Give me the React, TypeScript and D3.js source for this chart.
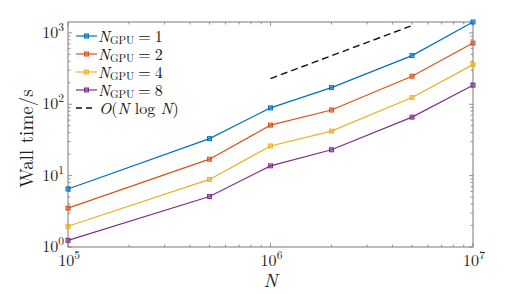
import React from "react";
import * as d3 from "d3";

const nValues = [1e5, 5e5, 1e6, 2e6, 5e6, 1e7];
const gpuCounts = [1, 2, 4, 8];
const time1 = [6.5, 33, 89, 171, 480, 1420];
const time2 = [3.5, 17, 51, 83, 247, 720];
const time4 = [1.95, 8.85, 26, 42, 124, 359];
const time8 = [1.24, 5.1, 13.7, 23, 66, 185];
const refN = [1e6, 4.92e6];
const refTime = [229, 1245];
const xTicks = [1e5, 1e6, 1e7];
const yTicks = [1, 10, 100, 1000];

const colors = ["#0072BD", "#D95319", "#EDB120", "#7E2F8E"];
const series = [time1, time2, time4, time8];

const width = 523;
const height = 294;
const margin = { top: 22, right: 50, bottom: 47, left: 68 };
const innerWidth = width - margin.left - margin.right;
const innerHeight = height - margin.top - margin.bottom;
const font = "Latin Modern Roman, Liberation Serif, serif";
const axisColor = "#7a7a7a";

function minorTicks(lo: number, hi: number) {
  const out: number[] = [];
  for (let e = Math.floor(Math.log10(lo)); e <= Math.ceil(Math.log10(hi)); e++) {
    for (let m = 2; m <= 9; m++) {
      const v = m * Math.pow(10, e);
      if (v > lo && v < hi) out.push(v);
    }
  }
  return out;
}

function Pow10({ exp, x, y, anchor }: { exp: number; x: number; y: number; anchor: string }) {
  return (
    <text x={x} y={y} textAnchor={anchor} style={{ fontFamily: font }} fontSize={16} fill="#222">
      10<tspan dy={-7} fontSize={11.5}>{exp}</tspan>
    </text>
  );
}

export default function App() {
  const xScale = d3.scaleLog().domain([1e5, 1e7]).range([0, innerWidth]);
  const yScale = d3.scaleLog().domain([1, 1420]).range([innerHeight, 0]);

  const line = d3
    .line<[number, number]>()
    .x((d) => xScale(d[0]))
    .y((d) => yScale(d[1]));

  const xMinor = minorTicks(1e5, 1e7);
  const yMinor = minorTicks(1, 1420);

  return (
    <svg width={width} height={height} style={{ position: "absolute", left: 0, top: 0 }}>
      <rect width={width} height={height} fill="#fff" />
      <g transform={`translate(${margin.left}, ${margin.top})`}>
        {/* ticks, inward on all four sides */}
        {xTicks.concat(xMinor).map((t, i) => {
          const len = xTicks.includes(t) ? 4 : 2.5;
          const x = xScale(t);
          return (
            <g key={"xt" + i} stroke={axisColor} strokeWidth={0.8}>
              <line x1={x} x2={x} y1={innerHeight} y2={innerHeight - len} />
              <line x1={x} x2={x} y1={0} y2={len} />
            </g>
          );
        })}
        {yTicks.concat(yMinor).map((t, i) => {
          const len = yTicks.includes(t) ? 4 : 2.5;
          const y = yScale(t);
          return (
            <g key={"yt" + i} stroke={axisColor} strokeWidth={0.8}>
              <line x1={0} x2={len} y1={y} y2={y} />
              <line x1={innerWidth} x2={innerWidth - len} y1={y} y2={y} />
            </g>
          );
        })}
        <rect width={innerWidth} height={innerHeight} fill="none" stroke={axisColor} strokeWidth={1} />

        {xTicks.map((t) => (
          <Pow10 key={"xl" + t} exp={Math.round(Math.log10(t))} x={xScale(t) + 1} y={innerHeight + 19} anchor="middle" />
        ))}
        {yTicks.map((t) => (
          <Pow10 key={"yl" + t} exp={Math.round(Math.log10(t))} x={-4} y={yScale(t) + 5} anchor="end" />
        ))}

        <path
          d={line(refN.map((n, i) => [n, refTime[i]] as [number, number])) || ""}
          fill="none"
          stroke="#111"
          strokeWidth={1.4}
          strokeDasharray="7,4"
        />

        {series.map((s, si) => (
          <g key={"s" + si}>
            <path
              d={line(nValues.map((n, i) => [n, s[i]] as [number, number])) || ""}
              fill="none"
              stroke={colors[si]}
              strokeWidth={1.2}
            />
            {nValues.map((n, i) => (
              <rect
                key={i}
                x={xScale(n) - 2}
                y={yScale(s[i]) - 2}
                width={4}
                height={4}
                fill={colors[si]}
                fillOpacity={0.5}
                stroke={colors[si]}
                strokeWidth={1}
              />
            ))}
          </g>
        ))}

        {/* legend */}
        <g transform="translate(8, 14)" style={{ fontFamily: font }} fontSize={16} fill="#111">
          {gpuCounts.map((g, i) => (
            <g key={"lg" + g} transform={`translate(0, ${i * 18})`}>
              <line x1={0} x2={21} y1={0} y2={0} stroke={colors[i]} strokeWidth={1.2} />
              <rect x={8.5} y={-2} width={4} height={4} fill={colors[i]} fillOpacity={0.5} stroke={colors[i]} />
              <text x={22} y={5.5}>
                <tspan fontStyle="italic">N</tspan>
                <tspan fontSize={11} dy={2.5}>GPU</tspan>
                <tspan dy={-2.5}>{"\u2005=\u2005" + g}</tspan>
              </text>
            </g>
          ))}
          <g transform={`translate(0, ${4 * 18})`}>
            <line x1={0} x2={19} y1={0} y2={0} stroke="#111" strokeWidth={1.4} strokeDasharray="6,4" />
            <text x={23} y={5.5}>
              <tspan fontStyle="italic">O</tspan>(<tspan fontStyle="italic">N</tspan> log <tspan fontStyle="italic">N</tspan>)
            </text>
          </g>
        </g>

        <text
          transform={`translate(${-35}, ${innerHeight / 2 + 4}) rotate(-90)`}
          textAnchor="middle"
          style={{ fontFamily: font }}
          fontSize={19}
          fill="#222"
        >
          Wall time/s
        </text>
        <text x={innerWidth / 2} y={innerHeight + 40} textAnchor="middle" style={{ fontFamily: font }} fontSize={19} fontStyle="italic" fill="#222">
          N
        </text>
      </g>
    </svg>
  );
}
